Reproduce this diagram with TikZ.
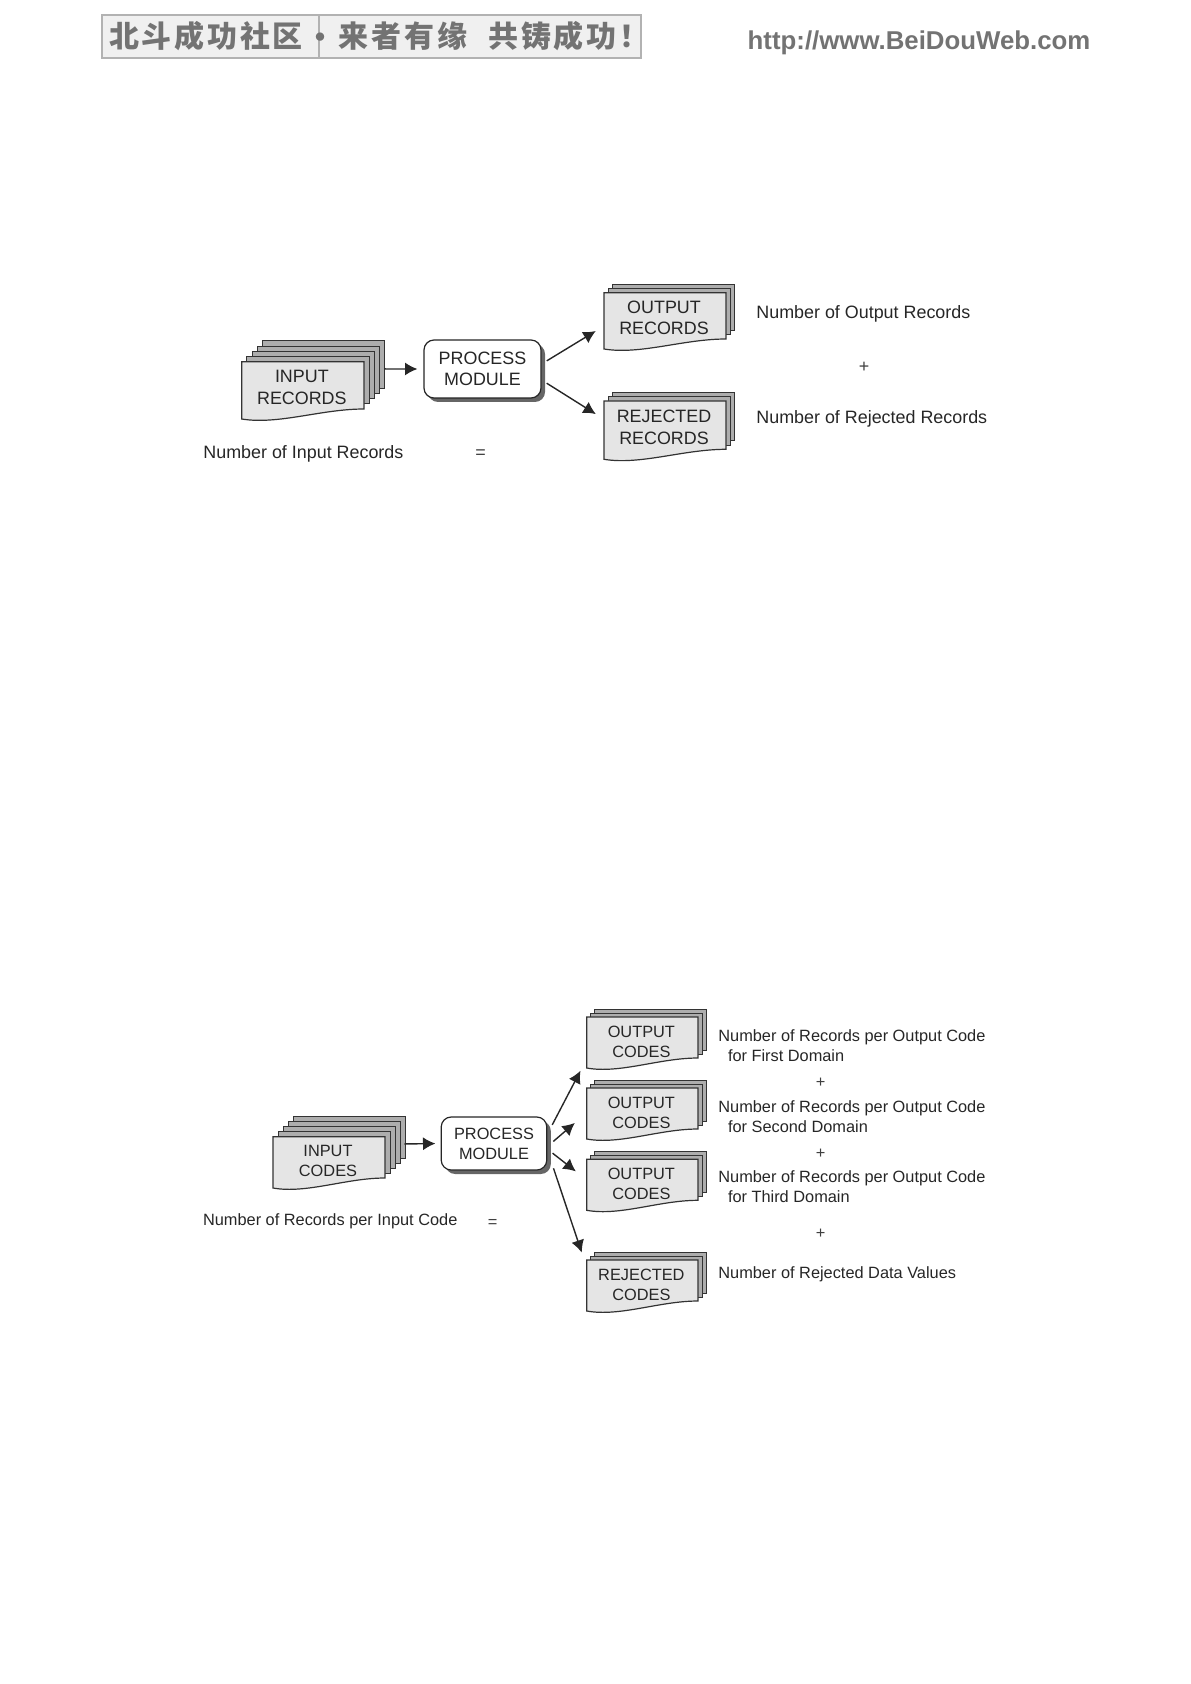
\documentclass[tikz,border=0pt]{standalone}
\usepackage{fontspec}
\setmainfont{Liberation Sans}
\newfontfamily\cjk[LetterSpace=9]{Noto Sans CJK SC}
\usetikzlibrary{arrows.meta,shadows}

% name, left, top, width, height, back sheets, sheet step, label
\newcommand{\docstack}[8]{%
    \foreach \i in {#6,...,1}{
        \draw[backsheet] (#2+\i*#7,#3-\i*#7) rectangle ++(#4,#5);
    }
    \draw[frontsheet] (#2,#3) -- ++(#4,0) -- ++(0,#5)
        .. controls +(-.35*#4,0) and +(.3*#4,6) .. ++(-#4,10) -- cycle;
    \draw node[sheetlabel, minimum width=#4*.5pt, minimum height=#5*.5pt] (#1) at (#2+#4/2-1,#3+#5/2) {#8};
}

\begin{document}
\begin{tikzpicture}[x=.5pt,y=-.5pt]
    \tikzset{
        backsheet/.style={draw=black!80, fill=black!32, line width=.5pt},
        frontsheet/.style={draw=black!80, fill=black!10, line width=.6pt},
        sheetlabel/.style={inner sep=0, align=center, text=black!85},
        bigtext/.style={font=\fontsize{8.95}{10.7}\selectfont},
        smalltext/.style={font=\fontsize{8.17}{10}\selectfont},
        process/.style={draw=black!85, fill=white, line width=.6pt, rounded corners=5pt, align=center, inner sep=0, text=black!85,
            drop shadow={shadow xshift=2pt, shadow yshift=-2pt, fill=black!60, opacity=1}},
        count/.style={anchor=west, inner sep=0, align=left, text=black!85},
        sign/.style={inner sep=0, text=black!75},
        arc/.style={-{Latex[length=6.2pt,width=6.5pt]}, draw=black!85, line width=.7pt},
        banner/.style={draw=black!30, fill=black!6, line width=.6pt, minimum height=21.5pt, inner sep=0},
        bannertext/.style={inner sep=0, text=black!55, font=\cjk\bfseries\fontsize{15}{17}\selectfont}
    }
    \useasboundingbox (0,0) rectangle (1190,1684);

    % header
    \draw node[banner, minimum width=108.5pt] (bannerl) at (210.5,36.5) {};
    \draw node[banner, minimum width=161pt] (bannerr) at (480,36.5) {};
    \draw node[bannertext] (slogana) at (206,36) {北斗成功社区};
    \draw node[bannertext] (sloganb) at (320,41) {•};
    \draw node[bannertext] (sloganc) at (403,36) {来者有缘};
    \draw node[bannertext] (slogand) at (569,36) {共铸成功！};
    \draw node[inner sep=0, text=black!55, font=\bfseries\fontsize{12.9}{15}\selectfont] (site) at (919,43) {http://www.BeiDouWeb.com};

    % records
    \tikzset{sheetlabel/.append style={bigtext, yshift=-1pt}, process/.append style={bigtext}, count/.append style={bigtext}, sign/.append style={bigtext}}
    \docstack{inrec}{241.7}{361.7}{122.3}{47.3}{4}{5.2}{INPUT\\RECORDS}
    \docstack{outrec}{604}{292.7}{122}{46.3}{2}{4.2}{OUTPUT\\RECORDS}
    \docstack{rejrec}{604}{401}{122}{48.3}{2}{4.2}{REJECTED\\RECORDS}
    \draw node[process, minimum width=58.5pt, minimum height=29pt] (proca) at (482.5,369) {PROCESS\\MODULE};

    \draw node[count] (ninrec) at (203,453.7) {Number of Input Records};
    \draw node[count] (noutrec) at (756,313.7) {Number of Output Records};
    \draw node[count] (nrejrec) at (756,418.7) {Number of Rejected Records};
    \draw node[sign] (eqa) at (480.7,454) {=};
    \draw node[sign] (plusa) at (864,367.7) {+};

    \draw[arc, shorten >=3pt] ([xshift=10.5pt,yshift=9.2pt]inrec.east) -- (proca.west);
    \draw[arc, shorten <=3pt, shorten >=4pt] ([yshift=2.5pt]proca.east) -- ([yshift=-4.5pt]outrec.west);
    \draw[arc, shorten <=3pt, shorten >=4pt] ([yshift=-5.5pt]proca.east) -- ([yshift=4.4pt]rejrec.west);

    % codes
    \tikzset{sheetlabel/.append style={smalltext, yshift=-1pt}, process/.append style={smalltext}, count/.append style={smalltext}, sign/.append style={smalltext}}
    \docstack{incode}{273}{1136.7}{112}{41.3}{4}{5}{INPUT\\CODES}
    \docstack{outa}{586.7}{1017}{111.3}{41}{2}{4}{OUTPUT\\CODES}
    \docstack{outb}{586.7}{1088}{111.3}{41}{2}{4}{OUTPUT\\CODES}
    \docstack{outc}{586.7}{1159.3}{111.3}{41}{2}{4}{OUTPUT\\CODES}
    \docstack{rejcode}{586.7}{1260}{111.3}{41}{2}{4}{REJECTED\\CODES}
    \draw node[process, minimum width=52.8pt, minimum height=26.5pt] (procb) at (494,1143.5) {PROCESS\\MODULE};

    \draw node[count] (nincode) at (202.7,1221) {Number of Records per Input Code};
    \foreach \x/\y/\z in {%
        a/1045.5/First, b/1116.5/Second, c/1187/Third%
    }{
    \draw node[count] (ncode\x) at (718,\y) {Number of Records per Output Code\\\hspace*{4.8pt}for \z{} Domain};
    }
    \draw node[count] (nrejcode) at (718,1274) {Number of Rejected Data Values};
    \draw node[sign] (eqb) at (492.7,1223) {=};
    \foreach \x/\y in {%
        a/1083, b/1154, c/1234%
    }{
    \draw node[sign] (plus\x) at (820.7,\y) {+};
    }

    \draw[arc, shorten >=2.6pt] ([xshift=10pt,yshift=8.7pt]incode.east) -- (procb.west);
    \draw[arc, shorten <=5.2pt, shorten >=5.2pt] ([yshift=4.7pt]procb.east) -- ([yshift=-10pt]outa.west);
    \draw[arc, shorten <=3.9pt, shorten >=6.9pt] ([yshift=-1.5pt]procb.east) -- ([yshift=-.7pt]outb.west);
    \draw[arc, shorten <=3.3pt, shorten >=6pt] ([yshift=-2.8pt]procb.east) -- ([yshift=2.5pt]outc.west);
    \draw[arc, shorten <=9.6pt, shorten >=3.7pt] ([yshift=-3.3pt]procb.east) -- ([xshift=-.6pt,yshift=2pt]rejcode.north west);
\end{tikzpicture}
\end{document}
